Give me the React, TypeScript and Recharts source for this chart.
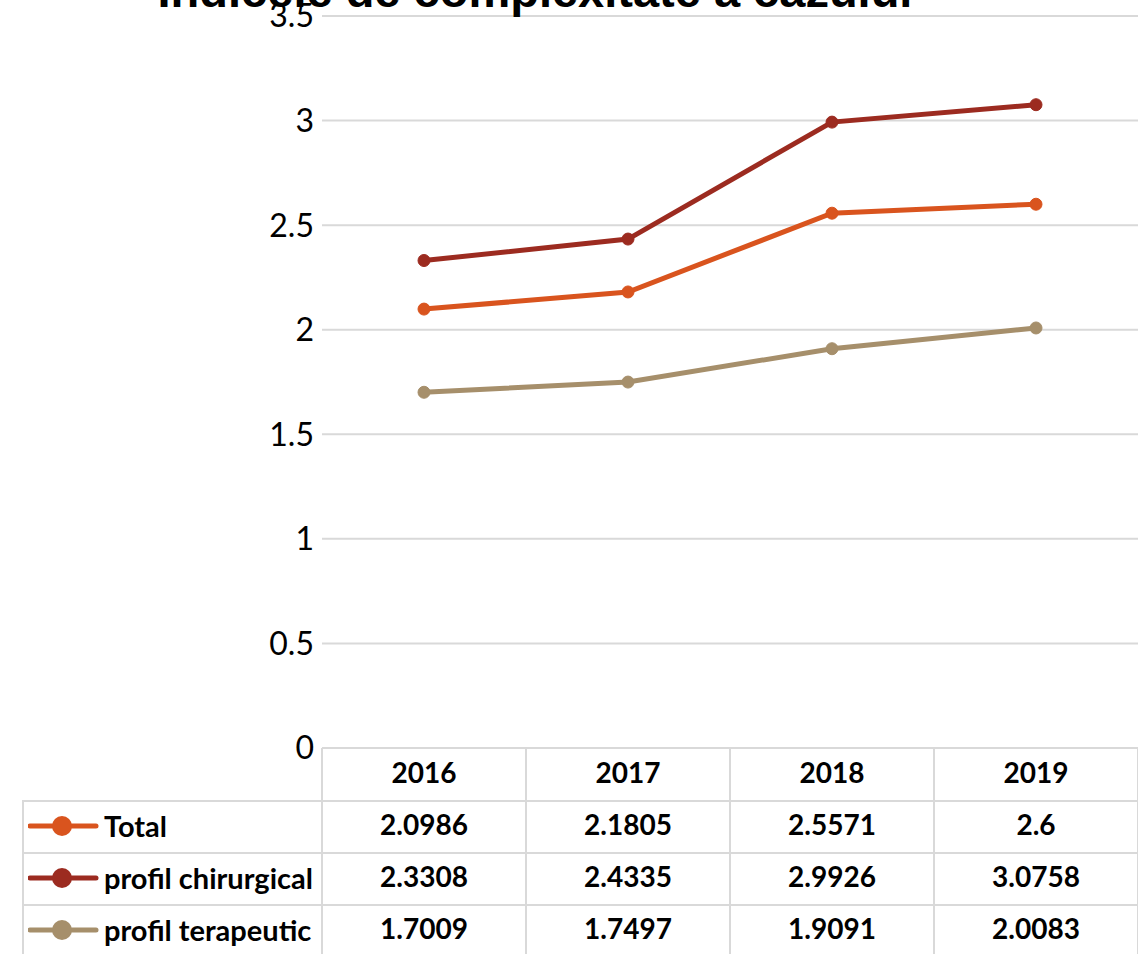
import { LineChart, Line, XAxis, YAxis, CartesianGrid } from "recharts";

const anos = ["2016", "2017", "2018", "2019"];
const total = [2.0986, 2.1805, 2.5571, 2.6];
const chirurgical = [2.3308, 2.4335, 2.9926, 3.0758];
const terapeutic = [1.7009, 1.7497, 1.9091, 2.0083];
const yTicks = [0, 0.5, 1, 1.5, 2, 2.5, 3, 3.5];

const serii = [
  { key: "total", nume: "Total", culoare: "#D9541E", valori: total },
  { key: "chirurgical", nume: "profil chirurgical", culoare: "#9C2B20", valori: chirurgical },
  { key: "terapeutic", nume: "profil terapeutic", culoare: "#A68F6B", valori: terapeutic },
];

const dados = anos.map((an, i) => ({
  an,
  total: total[i],
  chirurgical: chirurgical[i],
  terapeutic: terapeutic[i],
}));

const GRID = "#D9D9D9";
const ROW = 52;

function TickTabel(props: any) {
  const { x, payload } = props;
  const i = payload.index;
  const top = 748;
  return (
    <g>
      <line x1={x - 102} x2={x - 102} y1={top} y2={954} stroke={GRID} strokeWidth={2} />
      <line x1={x + 102} x2={x + 102} y1={top} y2={954} stroke={GRID} strokeWidth={2} />
      <text x={x} y={top + ROW / 2 - 2} textAnchor="middle" dominantBaseline="central"
        fontFamily="Lato" fontWeight="bold" fontSize={28} fill="#000">
        {payload.value}
      </text>
      {serii.map((s, r) => (
        <text key={s.key} x={x} y={top + ROW * (r + 1) + ROW / 2 - 2} textAnchor="middle"
          dominantBaseline="central" fontFamily="Lato" fontWeight="bold" fontSize={28} fill="#000">
          {s.valori[i]}
        </text>
      ))}
    </g>
  );
}

export default function App() {
  return (
    <div style={{ position: "absolute", left: 0, top: 0, width: 1138, height: 954, overflow: "hidden", background: "#fff" }}>
      <LineChart width={1138} height={954} data={dados} margin={{ top: 16, right: 0, left: 242, bottom: 0 }}>
        <CartesianGrid vertical={false} stroke={GRID} strokeWidth={2} />
        <YAxis
          domain={[0, 3.5]}
          ticks={yTicks}
          width={80}
          axisLine={false}
          tickLine={false}
          tickSize={0}
          tickMargin={8}
          interval={0}
          tick={{ fontFamily: "Lato", fontSize: 32, fill: "#000" }}
        />
        <XAxis
          dataKey="an"
          height={206}
          padding={{ left: 102, right: 102 }}
          axisLine={{ stroke: GRID, strokeWidth: 2 }}
          tickLine={false}
          tick={<TickTabel />}
          interval={0}
        />
        {serii.map((s) => (
          <Line
            key={s.key}
            dataKey={s.key}
            stroke={s.culoare}
            strokeWidth={5}
            dot={{ r: 6, fill: s.culoare, stroke: s.culoare, strokeWidth: 1 }}
            isAnimationActive={false}
          />
        ))}
      </LineChart>
      {serii.map((s, r) => (
        <div
          key={s.key}
          style={{
            position: "absolute",
            left: 22,
            top: 800 + ROW * r,
            width: 1116,
            height: ROW,
            borderTop: `2px solid ${GRID}`,
            borderLeft: `2px solid ${GRID}`,
            boxSizing: "border-box",
            display: "flex",
            alignItems: "center",
          }}
        >
          <svg width={80} height={30} style={{ marginLeft: 4, marginTop: -2 }}>
            <line x1={2} x2={68} y1={15} y2={15} stroke={s.culoare} strokeWidth={5} strokeLinecap="round" />
            <circle cx={34} cy={15} r={10} fill={s.culoare} />
          </svg>
          <span style={{ fontFamily: "Lato", fontWeight: "bold", fontSize: 29, color: "#000", marginLeft: -4, marginTop: -3 }}>
            {s.nume}
          </span>
        </div>
      ))}
      <div
        style={{
          position: "absolute",
          left: 0,
          top: -37,
          width: 1070,
          textAlign: "center",
          fontFamily: "Liberation Sans",
          fontWeight: "bold",
          fontSize: 47,
          color: "#000",
          whiteSpace: "nowrap",
        }}
      >
        Indicele de complexitate a cazului
      </div>
    </div>
  );
}
